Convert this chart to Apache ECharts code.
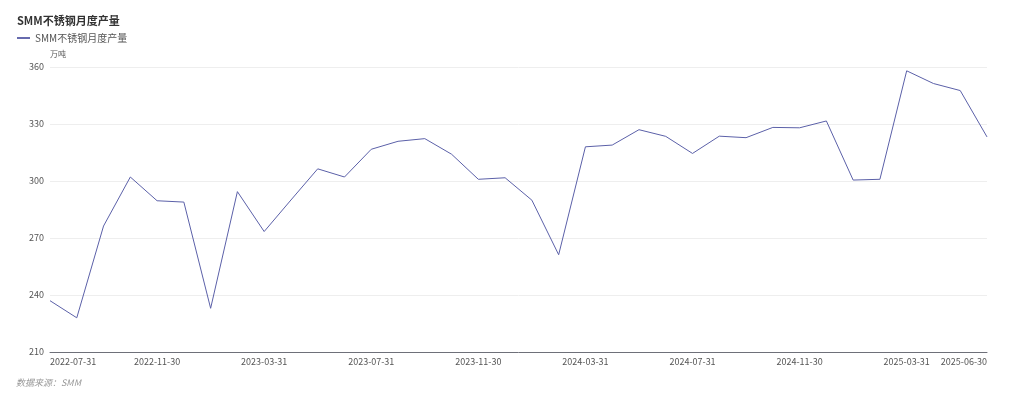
<!DOCTYPE html>
<html>
<head>
<meta charset="utf-8">
<style>
  html, body { margin: 0; padding: 0; background: #fff; }
  #chart { width: 1024px; height: 399px; }
</style>
<script src="https://cdn.jsdelivr.net/npm/echarts@6/dist/echarts.min.js"></script>
</head>
<body>
<div id="chart"></div>
<script>
// 月末日期
const months = [
  "2022-07-31", "2022-08-31", "2022-09-30", "2022-10-31", "2022-11-30", "2022-12-31",
  "2023-01-31", "2023-02-28", "2023-03-31", "2023-04-30", "2023-05-31", "2023-06-30",
  "2023-07-31", "2023-08-31", "2023-09-30", "2023-10-31", "2023-11-30", "2023-12-31",
  "2024-01-31", "2024-02-29", "2024-03-31", "2024-04-30", "2024-05-31", "2024-06-30",
  "2024-07-31", "2024-08-31", "2024-09-30", "2024-10-31", "2024-11-30", "2024-12-31",
  "2025-01-31", "2025-02-28", "2025-03-31", "2025-04-30", "2025-05-31", "2025-06-30"
];
// SMM不锈钢月度产量（万吨）
const output = [
  237.0, 228.0, 276.3, 302.1, 289.6, 288.9,
  233.0, 294.4, 273.4, 290.0, 306.4, 302.1,
  316.7, 320.9, 322.3, 314.1, 300.9, 301.7,
  289.9, 261.2, 318.0, 318.9, 327.0, 323.5,
  314.5, 323.6, 322.8, 328.2, 328.0, 331.6,
  300.5, 300.9, 358.0, 351.3, 347.6, 323.2
];
const yTicks = [210, 240, 270, 300, 330, 360];

const font = '"Noto Sans CJK SC", "Noto Sans", sans-serif';
const chart = echarts.init(document.getElementById("chart"));
chart.setOption({
  animation: false,
  textStyle: { fontFamily: font },
  title: [
    {
      text: "SMM不锈钢月度产量",
      left: 12,
      top: 10,
      textStyle: { fontSize: 11, fontWeight: "bold", color: "#333" }
    },
    {
      text: "数据来源：SMM",
      left: 11,
      top: 373,
      textStyle: { fontSize: 9, fontWeight: "normal", fontStyle: "italic", color: "#999" }
    }
  ],
  legend: {
    left: 12,
    top: 28,
    icon: "path://M0,0L14,0L14,2L0,2Z",
    itemWidth: 13,
    itemHeight: 2,
    itemGap: 6,
    textStyle: { fontSize: 10, color: "#555" },
    data: ["SMM不锈钢月度产量"]
  },
  grid: { left: 50, right: 37, top: 67, bottom: 47 },
  xAxis: {
    type: "category",
    boundaryGap: false,
    data: months,
    axisTick: { show: false },
    axisLine: { lineStyle: { color: "#6E7079" } },
    axisLabel: {
      color: "#555",
      fontSize: 9,
      margin: 5,
      interval: (i) => i % 4 === 0 || i === months.length - 1,
      alignMinLabel: "left",
      alignMaxLabel: "right"
    }
  },
  yAxis: {
    type: "value",
    name: "万吨",
    nameGap: 9,
    nameTextStyle: { fontSize: 8, color: "#555", align: "left" },
    min: yTicks[0],
    max: yTicks[yTicks.length - 1],
    interval: 30,
    axisLabel: { color: "#555", fontSize: 9, margin: 6 },
    splitLine: { lineStyle: { color: "#eeeeee" } }
  },
  series: [
    {
      name: "SMM不锈钢月度产量",
      type: "line",
      data: output,
      symbol: "none",
      color: "#5b60a8",
      lineStyle: { width: 1, color: "#5b60a8" }
    }
  ]
});
</script>
</body>
</html>
